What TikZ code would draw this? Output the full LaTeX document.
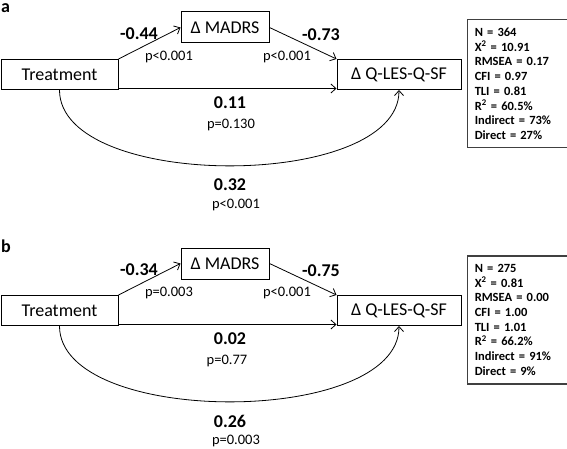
\documentclass[tikz,border=0pt]{standalone}
\usepackage{fontspec}
\setmainfont{Carlito}
\usepackage{tikz}
\usetikzlibrary{arrows.meta,positioning}

\begin{document}
\begin{tikzpicture}[
  x=1pt, y=1pt,
  box/.style={draw, line width=1pt, inner sep=0pt, minimum height=30pt, font=\fontsize{18}{20}\selectfont},
  coef/.style={inner sep=0pt, font=\bfseries\fontsize{18}{20}\selectfont},
  pval/.style={inner sep=0pt, font=\fontsize{14.5}{16}\selectfont},
  fitstats/.style={draw=black!75, line width=1.5pt, anchor=north west, align=left,
    text width=85pt, inner xsep=7.5pt, minimum height=128pt,
    font=\bfseries\fontsize{12.5}{14.7}\selectfont},
  tag/.style={anchor=base west, inner sep=0pt, font=\bfseries\fontsize{18}{20}\selectfont},
  arr/.style={-{Straight Barb[length=5pt,width=9pt]}, line width=0.8pt}
]
\useasboundingbox (0,0) rectangle (567,-449);
% ---------------- panel a
\begin{scope}
\node[tag] (taga) at (1,-13) {a};
\node[box, minimum width=117pt] (treata) at (59.5,-74.5) {Treatment};
\node[box, minimum width=88pt, minimum height=31pt] (madrsa) at (225,-27.5) {Δ MADRS};
\node[box, minimum width=124pt] (qlesa) at (399,-74.5) {Δ Q-LES-Q-SF};
\node[fitstats] (fita) at (466.5,-19) {N = 364\\ X\textsuperscript{2} = 10.91\\ RMSEA = 0.17\\ CFI = 0.97\\ TLI = 0.81\\ R\textsuperscript{2} = 60.5\%\\ Indirect = 73\%\\ Direct = 27\%};
% path labels
\node[coef] (c1a) at (139,-34) {-0.44};
\node[pval] (p1a) at (169,-57) {p<0.001};
\node[coef] (c2a) at (321,-35) {-0.73};
\node[pval] (p2a) at (287,-57) {p<0.001};
\node[coef] (c3a) at (230,-103) {0.11};
\node[pval] (p3a) at (231,-125) {p=0.130};
\node[coef] (c4a) at (230,-185) {0.32};
\node[pval] (p4a) at (236,-205) {p<0.001};
% arrows
\draw[arr] (treata.north east) -- (madrsa.west);
\draw[arr] (madrsa.east) -- (qlesa.north west);
\draw[arr] ([yshift=1.5pt]treata.south east) -- ([yshift=1.5pt]qlesa.south west);
\draw[arr] (treata.south) .. controls +(0,-101) and +(0,-101) .. (qlesa.south);
\end{scope}
% ---------------- panel b
\begin{scope}[yshift=-236pt]
\node[tag] (tagb) at (1,-16) {b};
\node[box, minimum width=117pt] (treatb) at (59.5,-74.5) {Treatment};
\node[box, minimum width=88pt, minimum height=31pt] (madrsb) at (225,-27.5) {Δ MADRS};
\node[box, minimum width=124pt] (qlesb) at (399,-74.5) {Δ Q-LES-Q-SF};
\node[fitstats] (fitb) at (466.5,-19) {N = 275\\ X\textsuperscript{2} = 0.81\\ RMSEA = 0.00\\ CFI = 1.00\\ TLI = 1.01\\ R\textsuperscript{2} = 66.2\%\\ Indirect = 91\%\\ Direct = 9\%};
% path labels
\node[coef] (c1b) at (139,-34) {-0.34};
\node[pval] (p1b) at (169,-57) {p=0.003};
\node[coef] (c2b) at (321,-35) {-0.75};
\node[pval] (p2b) at (287,-57) {p<0.001};
\node[coef] (c3b) at (230,-103) {0.02};
\node[pval] (p3b) at (227,-125) {p=0.77};
\node[coef] (c4b) at (230,-185) {0.26};
\node[pval] (p4b) at (236,-205) {p=0.003};
% arrows
\draw[arr] (treatb.north east) -- (madrsb.west);
\draw[arr] (madrsb.east) -- (qlesb.north west);
\draw[arr] ([yshift=1.5pt]treatb.south east) -- ([yshift=1.5pt]qlesb.south west);
\draw[arr] (treatb.south) .. controls +(0,-101) and +(0,-101) .. (qlesb.south);
\end{scope}
\end{tikzpicture}
\end{document}
